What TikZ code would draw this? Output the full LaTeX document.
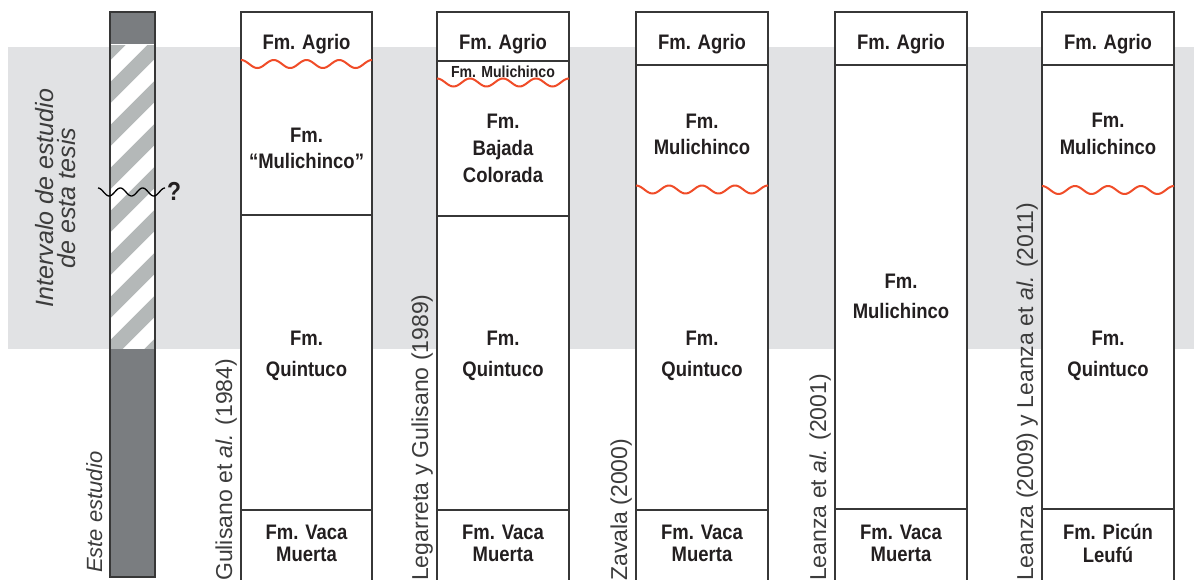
\documentclass[tikz,border=0pt]{standalone}
\usepackage{fontspec}
\setmainfont{Liberation Sans}
\newfontfamily\fmfont{Liberation Sans}[FakeStretch=0.88]
\definecolor{bandgray}{RGB}{225,226,228}
\definecolor{bardark}{RGB}{122,125,128}
\definecolor{hatchgray}{RGB}{180,184,184}
\definecolor{linec}{RGB}{55,55,55}
\definecolor{redc}{RGB}{240,76,40}
\definecolor{txt}{RGB}{35,31,32}
\definecolor{reftxt}{RGB}{60,60,60}
\tikzset{
  colbox/.style={draw=linec, line width=1.4pt, fill=white},
  sepline/.style={draw=linec, line width=1.4pt},
  unconf/.style={draw=redc, line width=2pt},
  fm/.style={font=\fmfont\bfseries\fontsize{21}{24}\selectfont, text=txt, inner sep=0pt, anchor=base},
  fmsmall/.style={font=\fmfont\bfseries\fontsize{16}{19}\selectfont, text=txt, inner sep=0pt, anchor=base},
  reflabel/.style={font=\fontsize{23}{27}\selectfont, text=reftxt, inner sep=0pt, rotate=90, anchor=base west},
  studylabel/.style={font=\itshape\fontsize{25}{29}\selectfont, text=reftxt, inner sep=0pt, rotate=90, anchor=base},
}
\begin{document}
\begin{tikzpicture}[x=1pt,y=-1pt]
\useasboundingbox (0,0) rectangle (1194,579);
\clip (0,0) rectangle (1194,579);
% grey band: study interval
\fill[bandgray] (8,47) rectangle (1194,349);
% this-study bar
\fill[bardark] (110,12) rectangle (155,577);
\fill[white] (110,44) rectangle (155,349);
\begin{scope}
  \clip (110,45) rectangle (155,348);
  \foreach \k in {-1,...,8}
    \draw[hatchgray, line width=15pt] (100,{50+43*\k+10}) -- (170,{50+43*\k-60});
\end{scope}
\draw[draw=linec, line width=1.4pt] (110,12) rectangle (155,577);
\draw[black, line width=1.3pt] plot[domain=0:67, samples=80, smooth] ({98+\x},{192-4*cos((\x/22.33)*360)});
\node[font=\fmfont\bfseries\fontsize{26}{30}\selectfont, text=txt, inner sep=0pt, anchor=base west] (q) at (167,200) {?};
\node[studylabel] (int1) at (53,198) {Intervalo de estudio};
\node[studylabel] (int2) at (75,198) {de esta tesis};
\node[reflabel, font=\itshape\fontsize{22}{26}\selectfont] (este) at (102,573) {Este estudio};
% column 1
\draw[colbox] (241,12) rectangle (372,600);
\draw[sepline] (241,215) -- (372,215);
\draw[sepline] (241,510) -- (372,510);
\draw[unconf] plot[domain=0:131, samples=120, smooth] ({241+\x},{64-4*cos((\x/32.75)*360)});
\node[fm] (a1) at (306.5,49.5) {Fm. Agrio};
\node[fm] (m1a) at (306.5,142) {Fm.};
\node[fm] (m1b) at (306.5,168) {“Mulichinco”};
\node[fm] (q1a) at (306.5,345) {Fm.};
\node[fm] (q1b) at (306.5,376) {Quintuco};
\node[fm] (v1a) at (306.5,539) {Fm. Vaca};
\node[fm] (v1b) at (306.5,561.5) {Muerta};
\node[reflabel] (r1) at (232,581) {Gulisano et \textit{al.} (1984)};
% column 2
\draw[colbox] (437,12) rectangle (569,600);
\draw[sepline] (437,61) -- (569,61);
\draw[sepline] (437,216) -- (569,216);
\draw[sepline] (437,510) -- (569,510);
\draw[unconf] plot[domain=0:132, samples=120, smooth] ({437+\x},{82.5-4*cos((\x/33)*360)});
\node[fm] (a2) at (503,49.5) {Fm. Agrio};
\node[fmsmall] (m2) at (503,77) {Fm. Mulichinco};
\node[fm] (b2a) at (503,128) {Fm.};
\node[fm] (b2b) at (503,155) {Bajada};
\node[fm] (b2c) at (503,182.5) {Colorada};
\node[fm] (q2a) at (503,345) {Fm.};
\node[fm] (q2b) at (503,376) {Quintuco};
\node[fm] (v2a) at (503,539) {Fm. Vaca};
\node[fm] (v2b) at (503,561.5) {Muerta};
\node[reflabel] (r2) at (428,581) {Legarreta y Gulisano (1989)};
% column 3
\draw[colbox] (636,12) rectangle (768,600);
\draw[sepline] (636,65) -- (768,65);
\draw[sepline] (636,510) -- (768,510);
\draw[unconf] plot[domain=0:132, samples=120, smooth] ({636+\x},{189.5-4*cos((\x/33)*360)});
\node[fm] (a3) at (702,49.5) {Fm. Agrio};
\node[fm] (m3a) at (702,128) {Fm.};
\node[fm] (m3b) at (702,154) {Mulichinco};
\node[fm] (q3a) at (702,345) {Fm.};
\node[fm] (q3b) at (702,376) {Quintuco};
\node[fm] (v3a) at (702,539) {Fm. Vaca};
\node[fm] (v3b) at (702,561.5) {Muerta};
\node[reflabel] (r3) at (627,581) {Zavala (2000)};
% column 4
\draw[colbox] (835,12) rectangle (967,600);
\draw[sepline] (835,65) -- (967,65);
\draw[sepline] (835,509) -- (967,509);
\node[fm] (a4) at (901,49.5) {Fm. Agrio};
\node[fm] (m4a) at (901,288) {Fm.};
\node[fm] (m4b) at (901,318) {Mulichinco};
\node[fm] (v4a) at (901,539) {Fm. Vaca};
\node[fm] (v4b) at (901,561.5) {Muerta};
\node[reflabel] (r4) at (826,581) {Leanza et \textit{al.} (2001)};
% column 5
\draw[colbox] (1042,12) rectangle (1174,600);
\draw[sepline] (1042,65) -- (1174,65);
\draw[sepline] (1042,509) -- (1174,509);
\draw[unconf] plot[domain=0:132, samples=120, smooth] ({1042+\x},{190-4*cos((\x/33)*360)});
\node[fm] (a5) at (1108,49.5) {Fm. Agrio};
\node[fm] (m5a) at (1108,127) {Fm.};
\node[fm] (m5b) at (1108,154) {Mulichinco};
\node[fm] (q5a) at (1108,345) {Fm.};
\node[fm] (q5b) at (1108,376) {Quintuco};
\node[fm] (p5a) at (1108,539) {Fm. Picún};
\node[fm] (p5b) at (1108,562) {Leufú};
\node[reflabel] (r5) at (1033,581) {Leanza (2009) y Leanza et \textit{al.} (2011)};
\end{tikzpicture}
\end{document}
